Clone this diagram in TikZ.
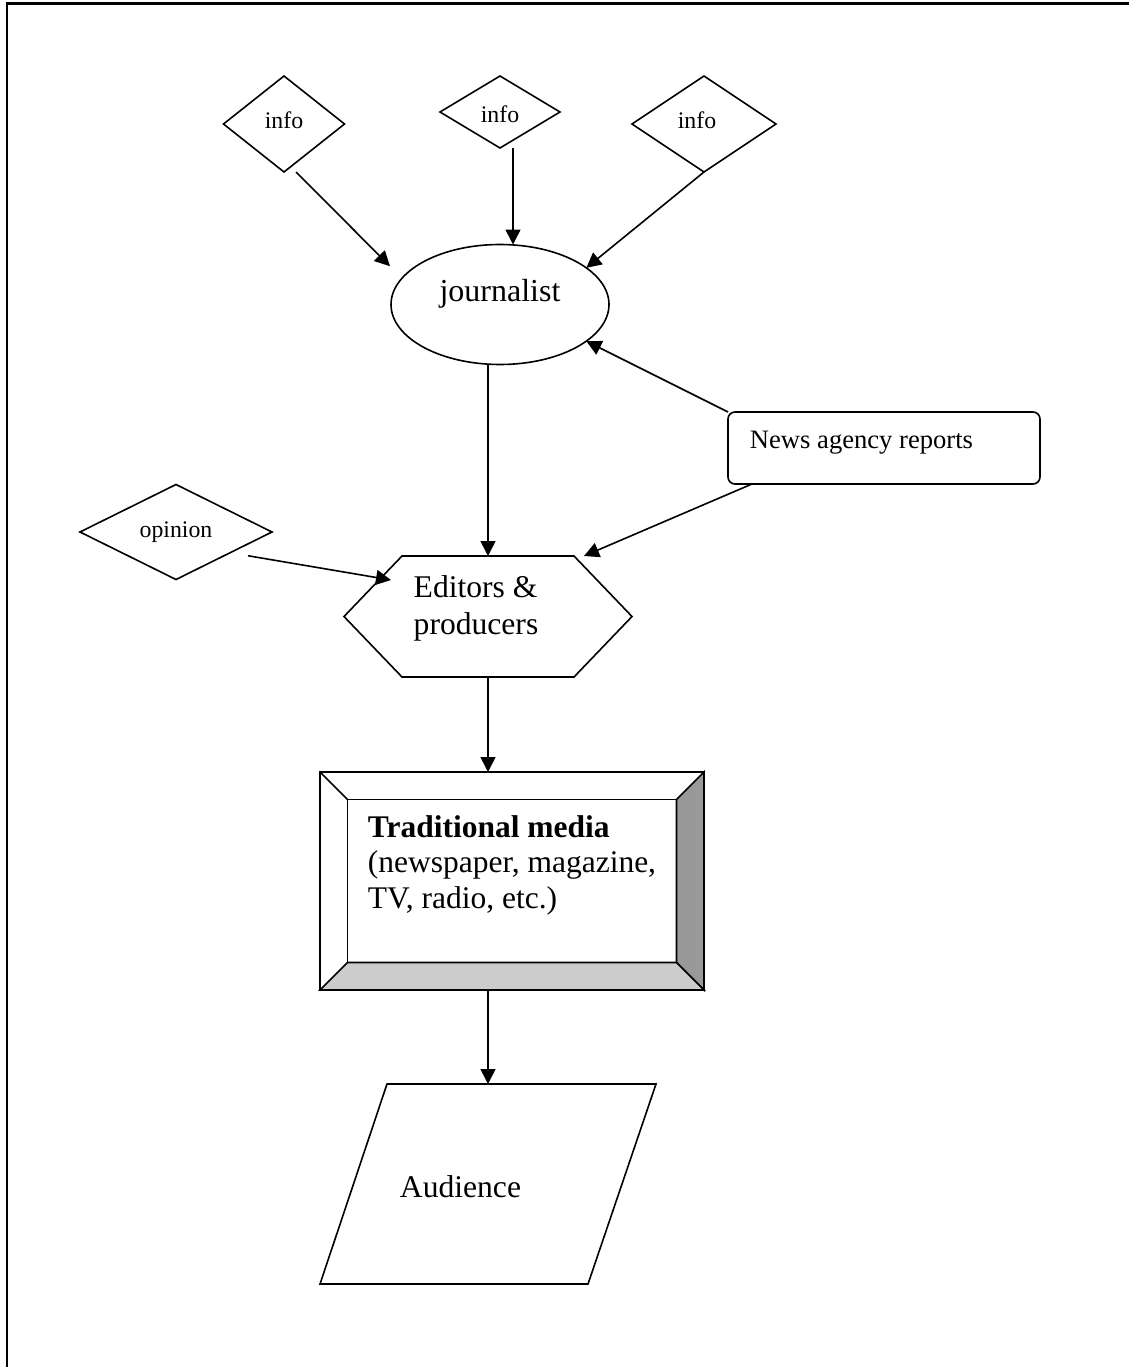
\documentclass[tikz,border=0pt]{standalone}
\usepackage{fontspec}
\setmainfont{Liberation Serif}
\usetikzlibrary{arrows.meta,shapes.geometric}
\definecolor{bevdark}{HTML}{999999}
\definecolor{bevlight}{HTML}{CCCCCC}
\begin{document}
\begin{tikzpicture}[x=1pt,y=-1pt,
  outl/.style={draw, line width=1.6pt, inner sep=0pt, outer sep=0pt},
  plain/.style={inner sep=0pt, outer sep=0pt},
  edge/.style={line width=1.6pt},
  arr/.style={line width=1.6pt, -{Triangle[length=15pt,width=15pt]}},
  smallfont/.style={font=\fontsize{23.8}{28}\selectfont},
  midfont/.style={font=\fontsize{26.6}{31}\selectfont},
  bigfont/.style={font=\fontsize{31.6}{37}\selectfont}]
\useasboundingbox (0,0) rectangle (1129,1367);
% page frame
\draw[line width=2.5pt] (7,1367) -- (7,3.5) -- (1129,3.5);

% info diamonds
\node[outl, diamond, minimum width=121pt, minimum height=96pt, smallfont] (i1) at (284,124) {info\rule[-7.7pt]{0pt}{7.7pt}};
\node[outl, diamond, minimum width=120pt, minimum height=72pt, smallfont] (i2) at (500,112) {info\rule{0pt}{20.6pt}};
\node[outl, diamond, minimum width=144pt, minimum height=96pt, smallfont] (i3) at (704,124) {info\hspace*{14pt}\rule[-7.7pt]{0pt}{7.7pt}};

% journalist
\node[outl, ellipse, minimum width=218pt, minimum height=120pt, font=\fontsize{32}{38}\selectfont] (jour) at (500,304.5) {journalist\rule[-27.5pt]{0pt}{27.5pt}};

% news agency
\node[outl, rectangle, rounded corners=7pt, minimum width=312pt, minimum height=72pt, midfont] (news) at (884,448) {News agency reports\hspace*{45pt}\rule[-16pt]{0pt}{16pt}};

% opinion
\node[outl, diamond, minimum width=192pt, minimum height=95pt, smallfont] (op) at (176,532) {opinion};

% editors hexagon
\node[plain, minimum width=288pt, minimum height=121pt, align=left, bigfont] (hex) at (488,616.5) {Editors \&\\producers\hspace*{24pt}\rule[-23pt]{0pt}{23pt}};
\draw[edge] (hex.west) -- ([xshift=58pt]hex.north west) -- ([xshift=-58pt]hex.north east) -- (hex.east)
  -- ([xshift=-58pt]hex.south east) -- ([xshift=58pt]hex.south west) -- cycle;

% traditional media bevel box
\node[outl, minimum width=384pt, minimum height=218pt, align=left, font=\fontsize{31.5}{35.5}\selectfont] (media) at (512,881)
  {\textbf{Traditional media}\\(newspaper, magazine,\\TV, radio, etc.)\rule[-38.6pt]{0pt}{38.6pt}};
\filldraw[edge, fill=bevdark] (media.north east) -- (media.south east) -- ([xshift=-27.5pt,yshift=27.5pt]media.south east)
  -- ([xshift=-27.5pt,yshift=-27.5pt]media.north east) -- cycle;
\filldraw[edge, fill=bevlight] (media.south west) -- (media.south east) -- ([xshift=-27.5pt,yshift=27.5pt]media.south east)
  -- ([xshift=27.5pt,yshift=27.5pt]media.south west) -- cycle;
\draw[edge] ([xshift=27.5pt,yshift=-27.5pt]media.north west) rectangle ([xshift=-27.5pt,yshift=27.5pt]media.south east);
\draw[edge] (media.north west) -- ([xshift=27.5pt,yshift=-27.5pt]media.north west);

% audience parallelogram
\node[plain, minimum width=336pt, minimum height=200pt, bigfont] (aud) at (488,1184) {Audience\hspace*{55pt}\rule{0pt}{28pt}};
\draw[edge] ([xshift=67pt]aud.north west) -- (aud.north east) -- ([xshift=-68pt]aud.south east) -- (aud.south west) -- cycle;

% connectors
\draw[arr, shorten >=17pt] ([xshift=12pt]i1.south) -- (jour.165.6);
\draw[arr] ([xshift=13pt]i2.south) -- ([xshift=13pt]i2.south |- jour.north);
\draw[arr] (i3.south) -- (jour.23.4);
\draw[arr] (news.north west) -- (jour.-23);
\draw[arr] (hex.north |- jour.south) -- (hex.north);
\draw[arr] ([xshift=24pt]news.south west) -- ([xshift=-48pt]hex.north east);
\draw[arr] ([xshift=24pt]op.south east) -- ([xshift=47pt,yshift=-24pt]hex.north west);
\draw[arr] (hex.south) -- (hex.south |- media.north);
\draw[arr] (aud.north |- media.south) -- (aud.north);
\end{tikzpicture}
\end{document}
